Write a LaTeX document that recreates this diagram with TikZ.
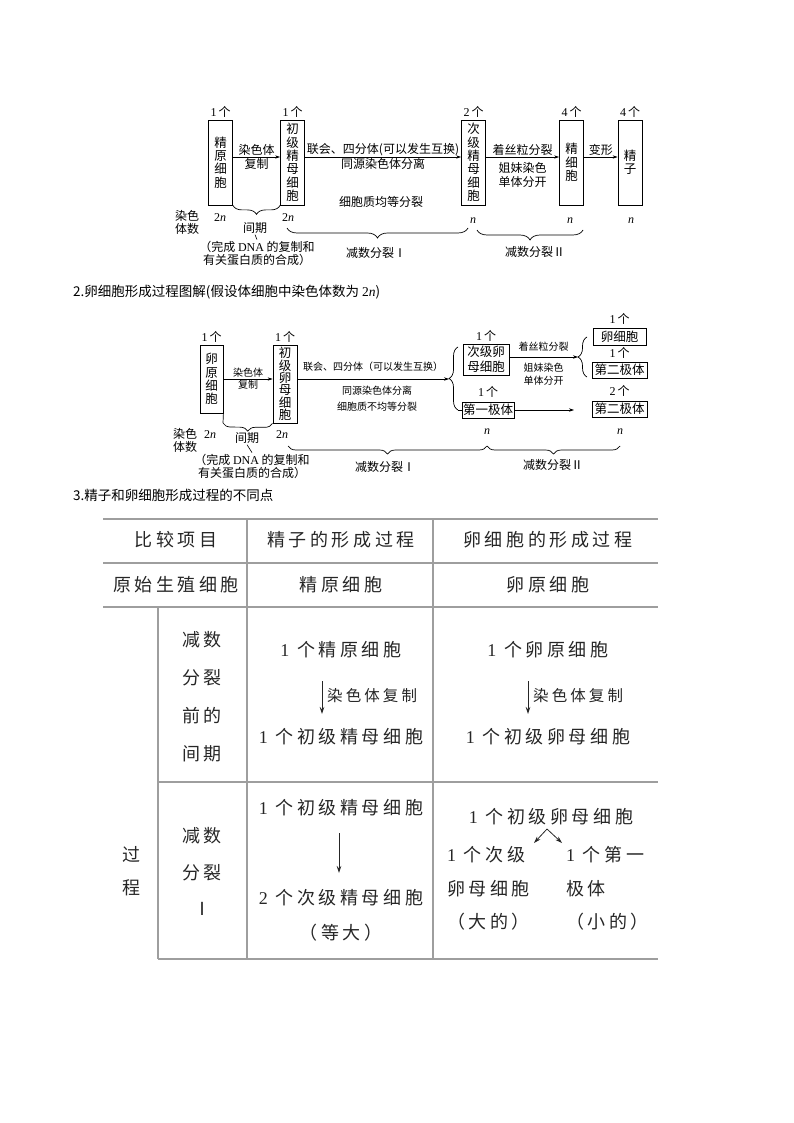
\documentclass[tikz,border=0pt]{standalone}
\usepackage{fontspec}
\setmainfont{Liberation Serif}
\newfontfamily\zh{Noto Sans CJK SC}
\newfontfamily\zhwide[LetterSpace=20]{Noto Sans CJK SC}
\usetikzlibrary{arrows.meta,decorations.pathreplacing,positioning}
\newcommand{\twon}{{\rmfamily 2\itshape n}}
\newcommand{\onen}{{\rmfamily\itshape n}}
\newcommand{\num}[1]{{\rmfamily #1}\,}
\begin{document}
\begin{tikzpicture}[x=1pt,y=-1pt,
    cellbox/.style={draw,line width=0.8pt,inner sep=0pt,align=center,
      font=\fontsize{12.5}{13.3}\selectfont\zh},
    lbl/.style={inner sep=1pt,align=center,font=\fontsize{12}{13}\selectfont\zh},
    smalllbl/.style={inner sep=1pt,align=center,font=\fontsize{10}{13}\selectfont\zh},
    link/.style={-{Stealth[length=5pt,width=3.4pt]},line width=0.7pt},
    ubrace/.style={decorate,decoration={brace,mirror,amplitude=#1},line width=0.7pt},
    vbrace/.style={decorate,decoration={brace,amplitude=#1},line width=0.7pt},
    tline/.style={draw=black!38,line width=1.3pt},
    ttext/.style={inner sep=0pt,text=black!85,font=\fontsize{18}{21}\selectfont\zhwide},
    tarrow/.style={-{Stealth[length=7pt,width=4.5pt]},line width=0.8pt,draw=black!85}
  ]
  \useasboundingbox (0,0) rectangle (794,1123);

  \node[cellbox,minimum width=24pt,minimum height=85pt] (jingyuan) at (220.5,162.5) {精\\原\\细\\胞};
  \node[cellbox,minimum width=24pt,minimum height=85pt] (chuji) at (292.5,162.5) {初\\级\\精\\母\\细\\胞};
  \node[cellbox,minimum width=24pt,minimum height=85pt] (ciji) at (473.5,162.5) {次\\级\\精\\母\\细\\胞};
  \node[cellbox,minimum width=24pt,minimum height=85pt] (jingxibao) at (571.5,162.5) {精\\细\\胞};
  \node[cellbox,minimum width=24pt,minimum height=85pt] (jingzi) at (630,162.5) {精\\子};
  \node[lbl,above=1pt of jingyuan] (gejy) {\num{1}个};
  \node[lbl,above=1pt of chuji] (gecj) {\num{1}个};
  \node[lbl,above=1pt of ciji] (geci) {\num{2}个};
  \node[lbl,above=1pt of jingxibao] (gejx) {\num{4}个};
  \node[lbl,above=1pt of jingzi] (gejz) {\num{4}个};
  \draw[link] ([yshift=5.5pt]jingyuan.east) -- ([yshift=5.5pt]chuji.west)
    node[midway,above,lbl] {染色体} node[midway,below,lbl] {复制};
  \draw[link] ([yshift=5.5pt]chuji.east) -- ([yshift=5.5pt]ciji.west)
    node[midway,above,lbl] {联会、四分体(可以发生互换)} node[midway,below,lbl] {同源染色体分离};
  \node[lbl] (junfen) at (381,202) {细胞质均等分裂};
  \draw[link] ([yshift=5.5pt]ciji.east) -- ([yshift=5.5pt]jingxibao.west)
    node[midway,above,lbl] {着丝粒分裂}
    node[midway,below=4pt,lbl,font=\fontsize{12}{14}\selectfont\zh] {姐妹染色\\单体分开};
  \draw[link] ([yshift=5.5pt]jingxibao.east) -- ([yshift=5.5pt]jingzi.west)
    node[midway,above,lbl] {变形};
  \node[lbl] (rsts1) at (187,222) {染色\\体数};
  \node[lbl] (njy) at (220,218) {\twon};
  \node[lbl] (ncj) at (288,218) {\twon};
  \node[lbl] (nci) at (473,221) {\onen};
  \node[lbl] (njx) at (570,221) {\onen};
  \node[lbl] (njz) at (631,221) {\onen};
  \draw[ubrace=9] (jingyuan.south east) -- (chuji.south west);
  \node[lbl] (jianqi1) at (255,228) {间期};
  \node[lbl] (bz1) at (257,253) {（完成 {\rmfamily DNA} 的复制和\\有关蛋白质的合成）};
  \draw[line width=0.6pt] (jianqi1.south) -- (bz1.north);
  \coordinate (m1a) at (287,228);
  \coordinate (m1b) at (468,228);
  \coordinate (m2a) at (477,230);
  \coordinate (m2b) at (583,230);
  \draw[ubrace=10] (m1a) -- (m1b);
  \draw[ubrace=10] (m2a) -- (m2b);
  \node[lbl] (fl1) at (376,253) {减数分裂Ⅰ};
  \node[lbl] (fl2) at (535,252) {减数分裂Ⅱ};

  \node[lbl,anchor=west,font=\fontsize{13.5}{15}\selectfont\zh] (title2) at (72,292)
    {2.卵细胞形成过程图解(假设体细胞中染色体数为 \twon)};

  \node[cellbox,minimum width=23pt,minimum height=68pt] (luanyuan) at (211.5,379) {卵\\原\\细\\胞};
  \node[cellbox,minimum width=24pt,minimum height=78pt,font=\fontsize{12.5}{12.4}\selectfont\zh] (luanchu) at (285,384) {初\\级\\卵\\母\\细\\胞};
  \node[lbl,above=1pt of luanyuan] (gely) {\num{1}个};
  \node[lbl,above=1pt of luanchu] (gelc) {\num{1}个};
  \draw[link] (luanyuan.east) -- (luanyuan.east -| luanchu.west)
    node[midway,above,smalllbl] {染色体} node[midway,below,smalllbl] {复制};
  \node[lbl] (rsts2) at (185,440) {染色\\体数};
  \node[lbl] (nly) at (210,435) {\twon};
  \node[lbl] (nlc) at (282,435) {\twon};
  \coordinate (jq2) at (223,423);
  \draw[line width=0.7pt] (luanyuan.south east) -- (jq2);
  \draw[ubrace=8] (jq2) -- (luanchu.south west);
  \node[lbl] (jianqi2) at (247,438) {间期};
  \node[lbl] (bz2) at (252,466) {（完成 {\rmfamily DNA} 的复制和\\有关蛋白质的合成）};
  \draw[line width=0.6pt] (jianqi2.south) -- (bz2.north);

  \coordinate (bigtip) at (449,379);
  \coordinate (bigtop) at (458,347);
  \coordinate (bigbot) at (458,410);
  \draw[link] ([yshift=5pt]luanchu.east) -- (bigtip)
    node[midway,above=6pt,smalllbl] {联会、四分体（可以发生互换）};
  \node[smalllbl,font=\fontsize{10}{16}\selectfont\zh] (tongyuan2) at (377,399) {同源染色体分离\\细胞质不均等分裂};
  \draw[vbrace=9] (bigbot) -- (bigtop);
  \node[cellbox,minimum width=46pt,minimum height=31pt,font=\fontsize{12.5}{15}\selectfont\zh] (luanci) at (486,359.5) {次级卵\\母细胞};
  \node[cellbox,minimum width=52pt,minimum height=16pt] (jiti1) at (488,410) {第一极体};
  \draw[line width=0.7pt] (bigbot) -- (jiti1.west);
  \node[lbl,above=1pt of luanci] (gelci) {\num{1}个};
  \node[lbl,above=3pt of jiti1] (gejt1) {\num{1}个};

  \coordinate (rtip) at (578,357);
  \coordinate (rtop) at (587,337);
  \coordinate (rbot) at (587,377);
  \coordinate (jt1end) at (574,410);
  \draw[link] ([yshift=2.5pt]luanci.east) -- (rtip)
    node[midway,above=4pt,smalllbl] {着丝粒分裂}
    node[midway,below=5pt,smalllbl] {姐妹染色\\单体分开};
  \draw[link] (jiti1.east) -- (jt1end);
  \draw[vbrace=9] (rbot) -- (rtop);
  \node[cellbox,minimum width=53pt,minimum height=17pt] (luanxibao) at (619.5,336.5) {卵细胞};
  \node[cellbox,minimum width=55pt,minimum height=16pt] (jiti2a) at (619.5,370) {第二极体};
  \node[cellbox,minimum width=55pt,minimum height=16pt] (jiti2b) at (619.5,409) {第二极体};
  \node[lbl,above=2pt of luanxibao] (gelx) {\num{1}个};
  \node[lbl,above=2pt of jiti2a] (gejt2a) {\num{1}个};
  \node[lbl,above=3pt of jiti2b] (gejt2b) {\num{2}个};
  \node[lbl] (nlci) at (487,432) {\onen};
  \node[lbl] (nlx) at (620,432) {\onen};
  \coordinate (k1a) at (288,446);
  \coordinate (k1b) at (487,446);
  \coordinate (k2b) at (620,446);
  \draw[ubrace=8] (k1a) -- (k1b);
  \draw[ubrace=8] (k1b) -- (k2b);
  \node[lbl] (fl3) at (385,467) {减数分裂Ⅰ};
  \node[lbl] (fl4) at (553,465) {减数分裂Ⅱ};

  \node[lbl,anchor=west,font=\fontsize{13.5}{15}\selectfont\zh] (title3) at (72,495)
    {3.精子和卵细胞形成过程的不同点};

  \foreach \y in {519,563,607} \draw[tline] (103,\y) -- (658,\y);
  \foreach \y in {782,959} \draw[tline] (158,\y) -- (658,\y);
  \foreach \x in {247,433} \draw[tline] (\x,519) -- (\x,959);
  \draw[tline] (158,607) -- (158,959);

  \node[ttext] (h1) at (176,540) {比较项目};
  \node[ttext] (h2) at (341,540) {精子的形成过程};
  \node[ttext] (h3) at (548,540) {卵细胞的形成过程};
  \node[ttext] (r1) at (176,585) {原始生殖细胞};
  \node[ttext] (r2) at (341,585) {精原细胞};
  \node[ttext] (r3) at (548,585) {卵原细胞};
  \node[ttext,align=center,font=\fontsize{18}{33}\selectfont\zhwide] (guocheng) at (131,871.5) {过\\程};
  \node[ttext,align=center,font=\fontsize{18}{38}\selectfont\zhwide] (jqlabel) at (202,696.5) {减数\\分裂\\前的\\间期};
  \node[ttext,align=center,font=\fontsize{18}{36.5}\selectfont\zhwide] (fllabel) at (202,871.5) {减数\\分裂\\Ⅰ};

  \node[ttext] (jy3) at (341,650) {{\rmfamily 1} 个精原细胞};
  \node[ttext] (cj3) at (341,737) {{\rmfamily 1} 个初级精母细胞};
  \coordinate (ja) at (322,681);
  \coordinate (jb) at (322,714);
  \draw[tarrow] (ja) -- (jb);
  \node[ttext,anchor=west,font=\fontsize{15.5}{18}\selectfont\zhwide] (fz1) at (327,696) {染色体复制};
  \node[ttext] (ly3) at (548,650) {{\rmfamily 1} 个卵原细胞};
  \node[ttext] (lc3) at (548,737) {{\rmfamily 1} 个初级卵母细胞};
  \coordinate (la) at (528,681);
  \coordinate (lb) at (528,714);
  \draw[tarrow] (la) -- (lb);
  \node[ttext,anchor=west,font=\fontsize{15.5}{18}\selectfont\zhwide] (fz2) at (533,696) {染色体复制};

  \node[ttext] (cj4) at (341,808) {{\rmfamily 1} 个初级精母细胞};
  \node[ttext] (cij4) at (341,898) {{\rmfamily 2} 个次级精母细胞};
  \node[ttext] (dd4) at (341,933) {（等大）};
  \coordinate (jc) at (339,833);
  \coordinate (jd) at (339,873);
  \draw[tarrow] (jc) -- (jd);
  \node[ttext] (lc4) at (551,817) {{\rmfamily 1} 个初级卵母细胞};
  \node[ttext,anchor=west,align=left,font=\fontsize{18}{33.5}\selectfont\zhwide] (lci4) at (447,888.5) {{\rmfamily 1} 个次级\\卵母细胞\\（大的）};
  \node[ttext,anchor=west,align=left,font=\fontsize{18}{33.5}\selectfont\zhwide] (jt4) at (566,888.5) {{\rmfamily 1} 个第一\\极体\\（小的）};
  \coordinate (forktop) at (547,829);
  \coordinate (forkl) at (534,843);
  \coordinate (forkr) at (562,843);
  \draw[tarrow] (forktop) -- (forkl);
  \draw[tarrow] (forktop) -- (forkr);
\end{tikzpicture}
\end{document}
